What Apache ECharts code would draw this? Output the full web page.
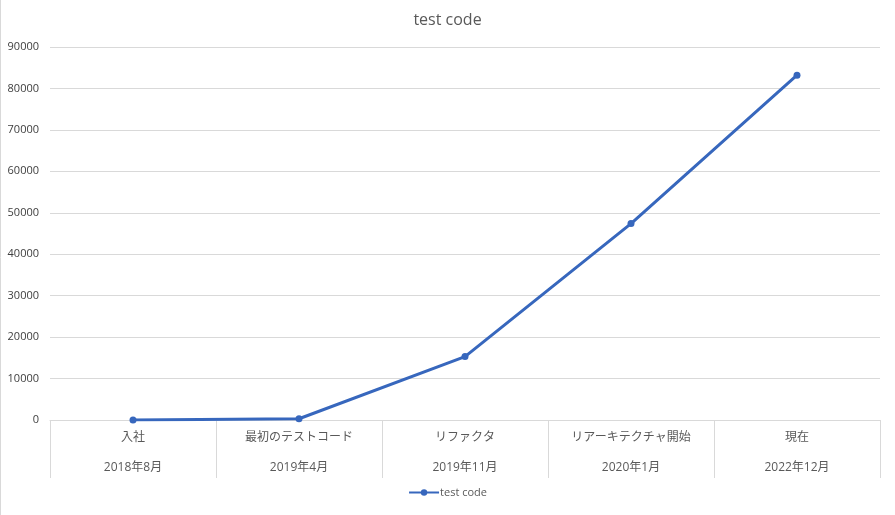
<!DOCTYPE html>
<html><head><meta charset="utf-8">
<script src="https://cdn.jsdelivr.net/npm/echarts@6/dist/echarts.min.js"></script>
<style>html,body{margin:0;padding:0;background:#fff}#c{width:895px;height:515px}</style>
</head><body><div id="c"></div>
<script>
const events = ['入社', '最初のテストコード', 'リファクタ', 'リアーキテクチャ開始', '現在'];
const dates = ['2018年8月', '2019年4月', '2019年11月', '2020年1月', '2022年12月'];
const values = [0, 300, 15300, 47400, 83200];
const seriesName = 'test code';

const FONT = '"Open Sans", "Noto Sans CJK JP", sans-serif';
const chart = echarts.init(document.getElementById('c'));
chart.setOption({
  animation: false,
  title: { text: 'test code', left: 'center', top: 7,
    textStyle: { fontFamily: FONT, fontSize: 16, fontWeight: 'normal', color: '#595959' } },
  legend: { bottom: 12, left: 'center', itemWidth: 30, itemHeight: 8, itemGap: 0,
    textStyle: { fontFamily: FONT, fontSize: 11, color: '#595959', padding: [0,0,0,-4] },
    data: [seriesName] },
  grid: { left: 50, right: 15, top: 47, bottom: 95 },
  xAxis: {
    type: 'category', data: events, boundaryGap: true,
    axisLine: { lineStyle: { color: '#d9d9d9', width: 1 } },
    axisTick: { show: true, length: 58, interval: 0, lineStyle: { color: '#d9d9d9' } },
    axisLabel: { interval: 0, margin: 3,
      formatter: (v, i) => v + '\n' + dates[i],
      lineHeight: 30, fontFamily: FONT, fontSize: 12, color: '#595959' }
  },
  yAxis: {
    type: 'value', min: 0, max: 90000, interval: 10000,
    axisLine: { show: false }, axisTick: { show: false },
    axisLabel: { margin: 11, fontFamily: FONT, fontSize: 11, color: '#404040',
      formatter: v => String(v) },
    splitLine: { lineStyle: { color: '#d9d9d9', width: 1 } }
  },
  graphic: [{ type: 'line', shape: { x1: 0.5, y1: 0, x2: 0.5, y2: 515 },
    style: { stroke: '#d9d9d9', lineWidth: 1 } }],
  series: [{
    name: seriesName, type: 'line', data: values,
    symbol: 'circle', symbolSize: 7,
    lineStyle: { color: '#3767bd', width: 3 },
    itemStyle: { color: '#3767bd' }
  }]
});
</script></body></html>
